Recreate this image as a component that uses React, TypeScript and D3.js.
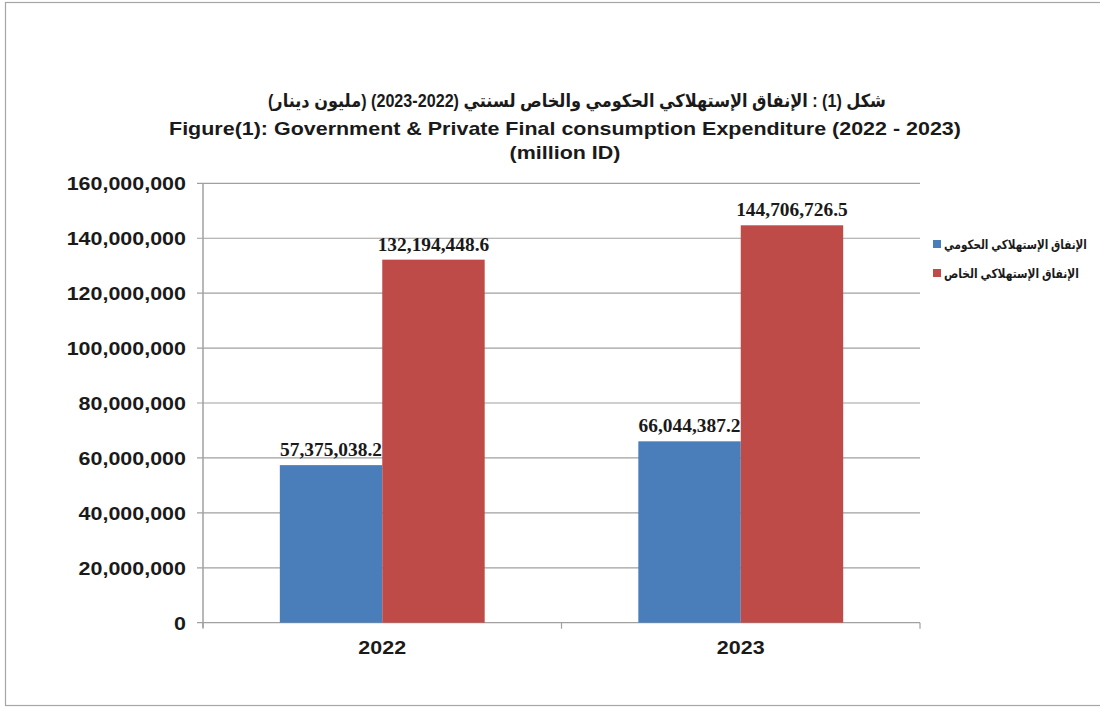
import React, { useEffect, useRef } from "react";
import * as d3 from "d3";

const categories = ["2022", "2023"];
const seriesNames = ["الإنفاق الإستهلاكي الحكومي", "الإنفاق الإستهلاكي الخاص"];
const government = [57375038.2, 66044387.2];
const privateExp = [132194448.6, 144706726.5];
const seriesColors = ["#4A7EBB", "#BE4B48"];
const yTicks = [0, 20000000, 40000000, 60000000, 80000000, 100000000, 120000000, 140000000, 160000000];
const titleLines = [
  "شكل (1) : الإنفاق الإستهلاكي الحكومي والخاص لسنتي (2022-2023) (مليون دينار)",
  "Figure(1): Government & Private Final consumption Expenditure (2022 - 2023)",
  "(million ID)",
];
const legendWidths = [143, 135];

const W = 1100;
const H = 707;
const plot = { left: 203, right: 920, top: 183.3, bottom: 622.7 };

export default function App() {
  const legendRef = useRef<SVGGElement | null>(null);
  const y = d3.scaleLinear().domain([0, 160000000]).range([plot.bottom, plot.top]);
  const x0 = d3.scaleBand().domain(categories).range([plot.left, plot.right]).paddingInner(0).paddingOuter(0);
  const bw = x0.bandwidth();
  const barW = bw / 3.5;
  const x1 = d3
    .scaleBand()
    .domain(["0", "1"])
    .range([bw / 2 - barW, bw / 2 + barW]);
  const series = [government, privateExp];
  const fmtTick = d3.format(",");
  const fmtLabel = (v: number) => d3.format(",.1f")(v);
  const sans = "Arial, 'Liberation Sans', 'DejaVu Sans', sans-serif";
  const serif = "'Times New Roman', 'Liberation Serif', serif";
  const gridColor = "#A0A0A0";
  const ink = "#1a1a1a";
  const sx = 1.13;

  useEffect(() => {
    if (!legendRef.current) return;
    d3.select(legendRef.current)
      .selectAll<SVGGElement, unknown>("g.lt")
      .each(function (_, i) {
        const t = this.querySelector("text") as SVGTextElement;
        const w = t.getComputedTextLength() || 1;
        const k = legendWidths[i] / w;
        d3.select(this).attr("transform", `translate(944,${244 + i * 29}) scale(${k},1)`);
      });
  }, []);

  return (
    <svg width={W} height={H} style={{ position: "absolute", left: 0, top: 0, background: "#fff" }}>
      <rect x={5.5} y={2.5} width={1110} height={703} fill="#fff" stroke="#A6A6A6" strokeWidth={1.2} />
      <text
        x={577}
        y={107}
        textAnchor="middle"
        fontFamily={sans}
        fontWeight="bold"
        fontSize={18}
        fill={ink}
        direction="rtl"
        textLength={618}
        lengthAdjust="spacingAndGlyphs"
      >
        {titleLines[0]}
      </text>
      {titleLines.slice(1).map((t, i) => (
        <g key={i} transform={`translate(565,${135 + i * 24}) scale(${sx},1)`}>
          <text x={0} y={0} textAnchor="middle" fontFamily={sans} fontWeight="bold" fontSize={19} fill={ink}>
            {t}
          </text>
        </g>
      ))}
      {yTicks.map((t) => (
        <g key={t}>
          <line x1={plot.left - 6} x2={plot.right} y1={y(t)} y2={y(t)} stroke={gridColor} strokeWidth={1.2} />
          <g transform={`translate(186,${y(t)}) scale(${sx},1)`}>
            <text x={0} y={0} dy="0.36em" textAnchor="end" fontFamily={sans} fontWeight="bold" fontSize={19} fill={ink}>
              {fmtTick(t)}
            </text>
          </g>
        </g>
      ))}
      <line x1={plot.left} x2={plot.left} y1={plot.top} y2={plot.bottom + 5} stroke={gridColor} strokeWidth={1.5} />
      {[...categories.map((c) => x0(c) as number), plot.right].map((xx, i) => (
        <line key={i} x1={xx} x2={xx} y1={plot.bottom} y2={plot.bottom + 6} stroke={gridColor} strokeWidth={1.2} />
      ))}
      {categories.map((c, ci) => (
        <g key={c} transform={`translate(${x0(c)},0)`}>
          {series.map((s, si) => {
            const bx = x1(String(si)) as number;
            const by = y(s[ci]);
            return (
              <g key={si}>
                <rect x={bx} y={by} width={x1.bandwidth()} height={plot.bottom - by} fill={seriesColors[si]} />
                <g transform={`translate(${bx + x1.bandwidth() / 2},${by - 9}) scale(1.05,1)`}>
                  <text x={0} y={0} textAnchor="middle" fontFamily={serif} fontWeight="bold" fontSize={18.5} fill={ink}>
                    {fmtLabel(s[ci])}
                  </text>
                </g>
              </g>
            );
          })}
          <g transform={`translate(${bw / 2},654) scale(${sx},1)`}>
            <text x={0} y={0} textAnchor="middle" fontFamily={sans} fontWeight="bold" fontSize={19} fill={ink}>
              {c}
            </text>
          </g>
        </g>
      ))}
      <g ref={legendRef}>
        {seriesNames.map((n, i) => (
          <g key={n}>
            <rect x={933} y={240 + i * 29} width={8} height={8} fill={seriesColors[i]} />
            <g className="lt" transform={`translate(944,${244 + i * 29}) scale(0.8,1)`}>
              <text x={0} y={0} dy="0.36em" fontFamily={sans} fontWeight="bold" fontSize={13} fill={ink}>
                {n}
              </text>
            </g>
          </g>
        ))}
      </g>
    </svg>
  );
}
